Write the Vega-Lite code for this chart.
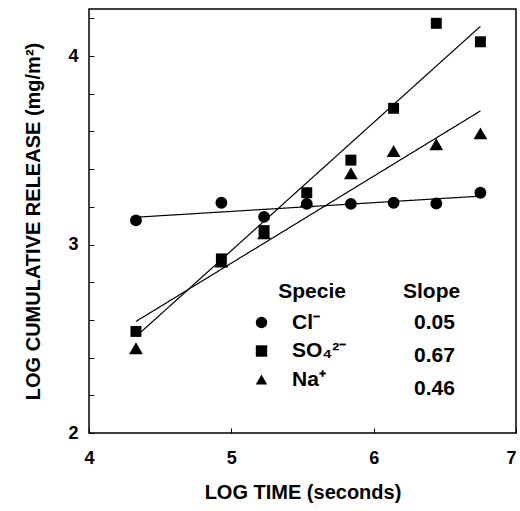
{
  "$schema": "https://vega.github.io/schema/vega-lite/v6.json",
  "width": 427,
  "height": 424,
  "autosize": {"type": "none"},
  "padding": {"left": 89, "top": 9, "right": 4, "bottom": 78},
  "background": "white",
  "config": {
    "view": {"stroke": "black", "strokeWidth": 1.5},
    "font": "Liberation Sans",
    "axis": {
      "grid": false,
      "domain": false,
      "tickColor": "black",
      "tickWidth": 1,
      "tickSize": -5,
      "labelColor": "black",
      "titleColor": "black",
      "labelFont": "Liberation Sans",
      "titleFont": "Liberation Sans",
      "labelFontWeight": "bold",
      "titleFontWeight": "bold",
      "labelFontSize": 18,
      "titleFontSize": 20,
      "labelOverlap": false
    },
    "legend": {
      "titleFont": "Liberation Sans",
      "labelFont": "Liberation Sans",
      "titleFontWeight": "bold",
      "labelFontWeight": "bold",
      "titleFontSize": 21,
      "labelFontSize": 21,
      "titleColor": "black",
      "labelColor": "black"
    }
  },
  "datasets": {
    "points": [
      {"specie": "Cl⁻", "logTime": 4.33, "logRelease": 3.128},
      {"specie": "Cl⁻", "logTime": 4.93, "logRelease": 3.222},
      {"specie": "Cl⁻", "logTime": 5.23, "logRelease": 3.147},
      {"specie": "Cl⁻", "logTime": 5.53, "logRelease": 3.216},
      {"specie": "Cl⁻", "logTime": 5.84, "logRelease": 3.216},
      {"specie": "Cl⁻", "logTime": 6.14, "logRelease": 3.222},
      {"specie": "Cl⁻", "logTime": 6.44, "logRelease": 3.218},
      {"specie": "Cl⁻", "logTime": 6.75, "logRelease": 3.275},
      {"specie": "SO₄²⁻", "logTime": 4.33, "logRelease": 2.539},
      {"specie": "SO₄²⁻", "logTime": 4.93, "logRelease": 2.924},
      {"specie": "SO₄²⁻", "logTime": 5.23, "logRelease": 3.074},
      {"specie": "SO₄²⁻", "logTime": 5.53, "logRelease": 3.275},
      {"specie": "SO₄²⁻", "logTime": 5.84, "logRelease": 3.448},
      {"specie": "SO₄²⁻", "logTime": 6.14, "logRelease": 3.723},
      {"specie": "SO₄²⁻", "logTime": 6.44, "logRelease": 4.174},
      {"specie": "SO₄²⁻", "logTime": 6.75, "logRelease": 4.076},
      {"specie": "Na⁺", "logTime": 4.33, "logRelease": 2.45},
      {"specie": "Na⁺", "logTime": 4.93, "logRelease": 2.91},
      {"specie": "Na⁺", "logTime": 5.23, "logRelease": 3.06},
      {"specie": "Na⁺", "logTime": 5.53, "logRelease": 3.23},
      {"specie": "Na⁺", "logTime": 5.84, "logRelease": 3.378},
      {"specie": "Na⁺", "logTime": 6.14, "logRelease": 3.496},
      {"specie": "Na⁺", "logTime": 6.44, "logRelease": 3.532},
      {"specie": "Na⁺", "logTime": 6.75, "logRelease": 3.59}
    ],
    "fits": [
      {"slope": "0.05", "logTime": 4.33, "logRelease": 3.145},
      {"slope": "0.05", "logTime": 6.75, "logRelease": 3.257},
      {"slope": "0.67", "logTime": 4.33, "logRelease": 2.512},
      {"slope": "0.67", "logTime": 6.75, "logRelease": 4.158},
      {"slope": "0.46", "logTime": 4.33, "logRelease": 2.592},
      {"slope": "0.46", "logTime": 6.75, "logRelease": 3.709}
    ]
  },
  "layer": [
    {
      "data": {"name": "fits"},
      "mark": {"type": "line", "color": "black", "strokeWidth": 1.2},
      "encoding": {
        "x": {
          "field": "logTime", "type": "quantitative",
          "scale": {"domain": [4, 7], "nice": false, "zero": false},
          "axis": {
            "title": "LOG TIME (seconds)", "values": [4, 5, 6, 7], "format": "d", "tickCount": 20,
            "labelPadding": 21, "titlePadding": 15, "labelFlush": false, "labelOverlap": false,
            "labelAlign": {"condition": {"test": "datum.value >= 7", "value": "right"}, "value": "center"}
          }
        },
        "y": {
          "field": "logRelease", "type": "quantitative",
          "scale": {"domain": [2, 4.25], "nice": false, "zero": false},
          "axis": {
            "title": "LOG CUMULATIVE RELEASE (mg/m²)",
            "values": [2, 2.2, 2.4, 2.6, 2.8, 3, 3.2, 3.4, 3.6, 3.8, 4, 4.2],
            "tickCount": 30,
            "labelExpr": "abs(datum.value - round(datum.value)) < 0.01 ? ('' + round(datum.value)) : ''",
            "labelPadding": 16,
            "titlePadding": 24,
            "labelFlush": false,
            "labelOverlap": false
          }
        },
        "strokeDash": {
          "field": "slope", "type": "nominal",
          "scale": {"domain": ["0.05", "0.67", "0.46"], "range": [[1, 0], [1, 0], [1, 0]]},
          "legend": {
            "orient": "none", "legendX": 314, "legendY": 272,
            "title": "Slope", "titleAnchor": "start", "titlePadding": 10,
            "symbolSize": 0, "symbolOpacity": 0, "symbolStrokeWidth": 0,
            "labelOffset": -10, "rowPadding": 11
          }
        }
      }
    },
    {
      "data": {"name": "points"},
      "mark": {
        "type": "point", "filled": true, "color": "black", "opacity": 1,
        "size": {"expr": "datum.specie === 'Na⁺' ? 190 : (datum.specie === 'SO₄²⁻' ? 120 : 140)"}
      },
      "encoding": {
        "x": {"field": "logTime", "type": "quantitative"},
        "y": {"field": "logRelease", "type": "quantitative"},
        "shape": {
          "field": "specie", "type": "nominal",
          "scale": {"domain": ["Cl⁻", "SO₄²⁻", "Na⁺"], "range": ["circle", "square", "triangle-up"]},
          "legend": {
            "orient": "none", "legendX": 162, "legendY": 272,
            "title": "Specie", "titleAnchor": "end", "titlePadding": 10,
            "symbolSize": 130, "symbolFillColor": "black", "symbolStrokeColor": "black", "symbolOpacity": 1,
            "labelOffset": 20, "rowPadding": 6.5
          }
        }
      }
    }
  ]
}
